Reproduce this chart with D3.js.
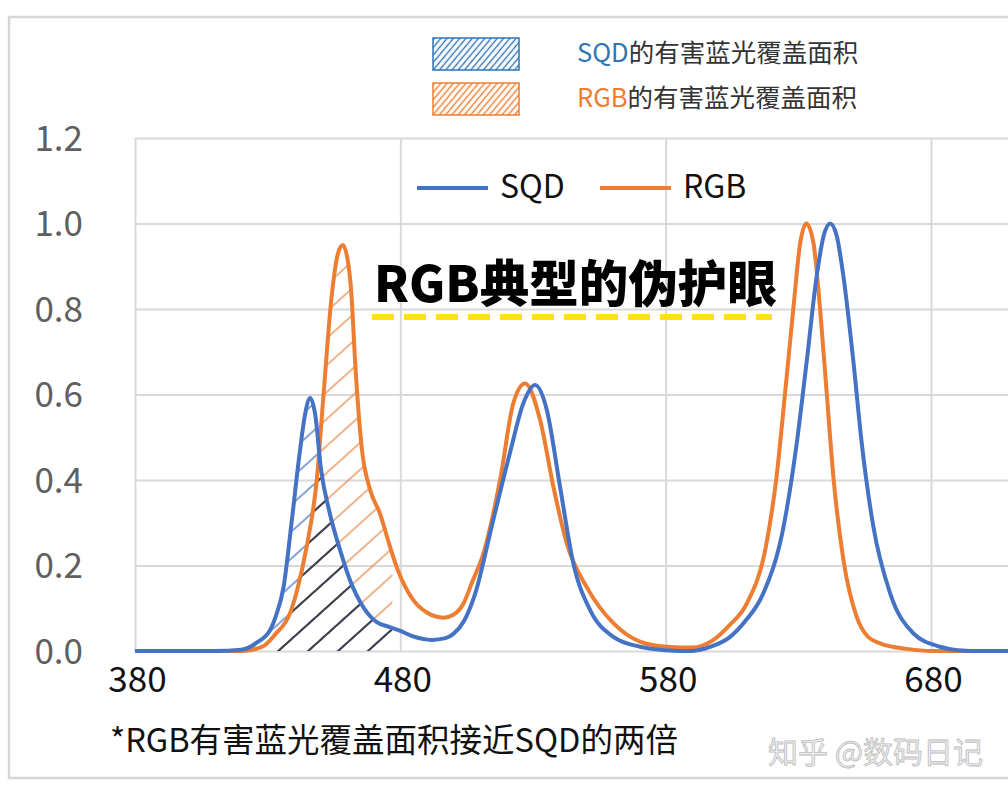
<!DOCTYPE html>
<html><head><meta charset="utf-8">
<script src="https://cdn.jsdelivr.net/npm/d3@7"></script>
<style>
html,body{margin:0;padding:0;background:#fff;}
svg{display:block;}
text{font-family:"Noto Sans CJK SC","Noto Sans",sans-serif;}
</style></head>
<body>
<script>
// ---- data ----
const xGrid = [380, 480, 580, 680, 780];
const xTicks = [380, 480, 580, 680];
const yTicks = [0, 0.2, 0.4, 0.6, 0.8, 1.0, 1.2];
const seriesNames = ["SQD", "RGB"];
const sqdNm  = [380,410,420,426,431,433,436,439,442,444,446,448,450,453.5,457.3,461,466,471,476,480,484,492,497,500,504,508,515,521.3,526.4,530.8,535.2,540.2,545.2,551.5,560.3,570.3,580,590,597,604.3,610,616.8,624.4,629.4,633.2,636.9,639.5,642,644.5,647,650.7,653.9,658.3,664.6,673.4,683.4,690,700,780];
const sqdVal = [0,0,0.003,0.02,0.05,0.08,0.15,0.3,0.46,0.55,0.592,0.55,0.43,0.32,0.236,0.166,0.103,0.068,0.056,0.047,0.036,0.026,0.03,0.04,0.07,0.13,0.306,0.463,0.58,0.622,0.564,0.384,0.205,0.096,0.033,0.01,0.002,0,0.01,0.033,0.07,0.135,0.29,0.486,0.68,0.876,0.97,1.0,0.97,0.876,0.68,0.486,0.29,0.135,0.041,0.01,0.002,0,0];
const rgbNm  = [380,420,428,433,438.4,441,444.7,448.5,451,454.1,456.5,458.3,460,461.5,463,465.4,468.6,472.3,476.1,479,484.9,490,496.2,500,503.7,507,511.3,517.6,522.6,527,532.7,537.7,542.7,550.2,560.3,570.3,580.4,590,598,604,610.5,618,621.8,625,628.1,630.7,633,635.7,638.2,640.7,643.2,647,652,656,660.8,671,680,780];
const rgbVal = [0,0,0.01,0.04,0.088,0.14,0.244,0.4,0.595,0.829,0.93,0.95,0.92,0.84,0.673,0.478,0.377,0.322,0.244,0.19,0.119,0.09,0.078,0.085,0.11,0.16,0.228,0.4,0.58,0.626,0.54,0.384,0.252,0.15,0.065,0.022,0.01,0.008,0.026,0.06,0.11,0.252,0.408,0.603,0.8,0.954,1.0,0.954,0.8,0.603,0.408,0.213,0.08,0.035,0.018,0.005,0,0];
const hatchRange = [380, 477];
const legendTop = ["SQD的有害蓝光覆盖面积", "RGB的有害蓝光覆盖面积"];
const titleText = "RGB典型的伪护眼";
const noteText = "*RGB有害蓝光覆盖面积接近SQD的两倍";
const watermark = "知乎 @数码日记";

const colors = {SQD: "#4472C4", RGB: "#ED7D31"};
const W = 1008, H = 792;

const svg = d3.select("body").append("svg").attr("width", W).attr("height", H);
svg.append("rect").attr("width", W).attr("height", H).attr("fill", "#fff");

const x = d3.scaleLinear().domain([380, 680]).range([135, 931]);
const y = d3.scaleLinear().domain([0, 1.2]).range([651, 138]);

const defs = svg.append("defs");
function hatch(id, color, spacing, angle, sw) {
  const p = defs.append("pattern").attr("id", id).attr("patternUnits", "userSpaceOnUse")
    .attr("width", spacing).attr("height", spacing)
    .attr("patternTransform", `rotate(${angle})`);
  p.append("line").attr("x1", spacing/2).attr("y1", 0).attr("x2", spacing/2).attr("y2", spacing)
    .attr("stroke", color).attr("stroke-width", sw);
}
hatch("hSQD", colors.SQD, 20, 48, 1.3);
hatch("hRGB", "#E8894A", 20, 48, 1.3);
hatch("hBoth", "#1a1a1a", 20, 48, 1.3);
hatch("lSQD", "#2E75B6", 4.8, 40, 1.4);
hatch("lRGB", "#ED7D31", 4.8, 40, 1.4);

// outer frame
svg.append("rect").attr("x", 9).attr("y", 17).attr("width", 1100).attr("height", 761)
  .attr("fill", "none").attr("stroke", "#d6d6d6").attr("stroke-width", 2.5);

// gridlines
const gx = svg.append("g").attr("transform", `translate(0,${y(0)})`)
  .call(d3.axisBottom(x).tickValues(xGrid).tickSize(-(y(0) - y(1.2))).tickFormat(""));
gx.select(".domain").remove();
gx.selectAll("line").attr("stroke", "#d9d9d9").attr("stroke-width", 2);
const gy = svg.append("g").attr("transform", `translate(${x(380)},0)`)
  .call(d3.axisLeft(y).tickValues(yTicks).tickSize(-(x(780) - x(380))).tickFormat(""));
gy.select(".domain").remove();
gy.selectAll("line").attr("stroke", "#d9d9d9").attr("stroke-width", 2);

// axis labels
const ay = svg.append("g").attr("transform", `translate(83,0)`)
  .call(d3.axisLeft(y).tickValues(yTicks).tickSize(0).tickPadding(0).tickFormat(d3.format(".1f")));
ay.select(".domain").remove();
ay.selectAll("text").attr("font-family", "'Noto Sans',sans-serif").attr("font-size", 35)
  .attr("fill", "#5f5f5f").attr("dy", "0.35em").attr("x", 0);
const ax = svg.append("g").attr("transform", `translate(0,${y(0)})`)
  .call(d3.axisBottom(x).tickValues(xTicks).tickSize(0).tickPadding(0).tickFormat(d3.format("d")));
ax.select(".domain").remove();
ax.selectAll("text").attr("font-size", 35).attr("fill", "#111").attr("dy", 0).attr("y", 41).attr("x", 2);

// data
const sqd = sqdNm.map((d, i) => ({nm: d, v: sqdVal[i]}));
const rgb = rgbNm.map((d, i) => ({nm: d, v: rgbVal[i]}));
const curve = d3.curveMonotoneX;
const area = d3.area().x(d => x(d.nm)).y0(y(0)).y1(d => y(d.v)).curve(curve);
const line = d3.line().x(d => x(d.nm)).y(d => y(d.v)).curve(curve);

defs.append("clipPath").attr("id", "cSQD").append("path").attr("d", area(sqd));
defs.append("clipPath").attr("id", "cRGB").append("path").attr("d", area(rgb));

const hx0 = x(hatchRange[0]), hx1 = x(hatchRange[1]);
function hatchRect(g, fill) {
  g.append("rect").attr("x", hx0).attr("y", y(1.2)).attr("width", hx1 - hx0).attr("height", y(0) - y(1.2))
    .attr("fill", fill);
}
hatchRect(svg.append("g").attr("clip-path", "url(#cRGB)"), "url(#hRGB)");
hatchRect(svg.append("g").attr("clip-path", "url(#cSQD)"), "url(#hSQD)");
hatchRect(svg.append("g").attr("clip-path", "url(#cSQD)").append("g").attr("clip-path", "url(#cRGB)"), "url(#hBoth)");

svg.append("path").attr("d", line(rgb)).attr("fill", "none").attr("stroke", colors.RGB).attr("stroke-width", 4);
svg.append("path").attr("d", line(sqd)).attr("fill", "none").attr("stroke", colors.SQD).attr("stroke-width", 4);

// inner legend
const legX = [417, 600];
seriesNames.forEach((n, i) => {
  svg.append("line").attr("x1", legX[i]).attr("x2", legX[i] + 71).attr("y1", 188).attr("y2", 188)
    .attr("stroke", colors[n]).attr("stroke-width", 4);
  svg.append("text").attr("x", legX[i] + 83).attr("y", 198).attr("font-size", 32).attr("fill", "#111").text(n);
});

// top legend (hatched boxes)
const topY = [38, 83];
const topFill = ["lSQD", "lRGB"];
const topCol = ["#2E75B6", "#ED7D31"];
legendTop.forEach((t, i) => {
  svg.append("rect").attr("x", 433).attr("y", topY[i]).attr("width", 86).attr("height", 32)
    .attr("fill", `url(#${topFill[i]})`).attr("stroke", topCol[i]).attr("stroke-width", 1.5);
  const tx = svg.append("text").attr("x", 577).attr("y", topY[i] + 24).attr("font-size", 25.5).attr("fill", "#333");
  tx.append("tspan").attr("fill", topCol[i]).text(t.slice(0, 3));
  tx.append("tspan").text(t.slice(3));
});

// title with dashed underline
svg.append("text").attr("x", 374).attr("y", 302).attr("font-size", 49.5).attr("font-weight", 900)
  .attr("fill", "#000").text(titleText);
svg.append("line").attr("x1", 372).attr("x2", 772).attr("y1", 317).attr("y2", 317)
  .attr("stroke", "#FFE01A").attr("stroke-width", 6).attr("stroke-dasharray", "22 10");

// note
svg.append("text").attr("x", 110).attr("y", 752).attr("font-size", 32.5).attr("fill", "#111").text(noteText);

// watermark
svg.append("text").attr("x", 768).attr("y", 763).attr("font-size", 30)
  .attr("fill", "#efefef").attr("stroke", "#bdbdbd").attr("stroke-width", 0.8).text(watermark);
</script>
</body></html>
